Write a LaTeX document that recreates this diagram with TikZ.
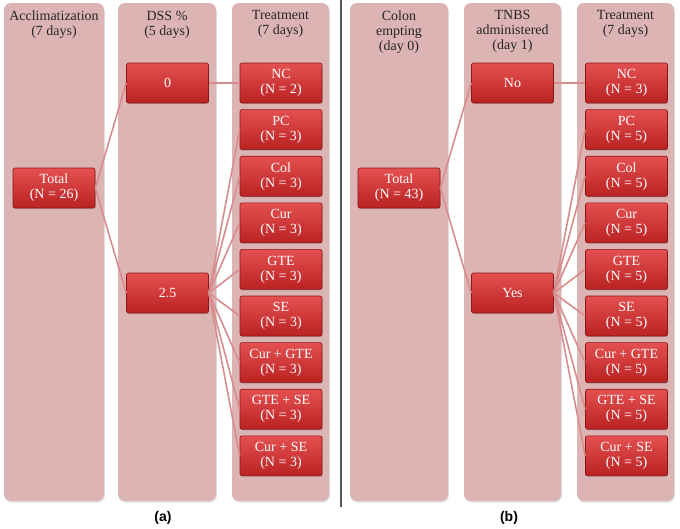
\documentclass[tikz,border=0pt]{standalone}
\usepackage{fontspec}
\setmainfont{Liberation Serif}
\newfontfamily\panelfont{Liberation Sans}
\usetikzlibrary{shadows}

\definecolor{colbg}{HTML}{DDB4B4}
\definecolor{boxtop}{HTML}{E45050}
\definecolor{boxbot}{HTML}{BA2222}
\definecolor{boxedge}{HTML}{8A1616}
\definecolor{linkcol}{HTML}{D88C8C}
\definecolor{hdrtext}{HTML}{262626}

\tikzset{
  column/.style={fill=colbg, rounded corners=7pt,
    drop shadow={shadow xshift=0.8pt, shadow yshift=-1.5pt, opacity=0.25}},
  hdr/.style={anchor=north, align=center, text=hdrtext, inner sep=0pt,
    font=\fontsize{14}{15}\selectfont},
  grp/.style={rectangle, rounded corners=2pt, draw=boxedge, line width=0.6pt,
    top color=boxtop, bottom color=boxbot, minimum width=82pt,
    minimum height=40pt, inner sep=0pt, align=center, text=white,
    font=\fontsize{14}{15}\selectfont,
    drop shadow={shadow xshift=0.6pt, shadow yshift=-1.2pt, opacity=0.35}},
  link/.style={draw=linkcol, line width=1.6pt},
  panel/.style={font=\panelfont\bfseries\fontsize{14}{15}\selectfont}
}

\begin{document}
\begin{tikzpicture}[x=1pt,y=-1pt]
\useasboundingbox (0,0) rectangle (680,528);

% Panel (a): columns
\path[column] (4,3) rectangle (104,501);
\path[column] (118,3) rectangle (216,501);
\path[column] (232,3) rectangle (329,501);
\node[hdr] (hdrAcc) at (54,10.5) {Acclimatization\\(7 days)};
\node[hdr] (hdrDss) at (167,10.5) {DSS \%\\(5 days)};
\node[hdr] (hdrTrtA) at (280.5,10.5) {Treatment\\(7 days)};

% Panel (a): groups
\node[grp] (totA) at (54,188) {Total\\(N = 26)};
\node[grp] (dssZero) at (167.5,83) {0};
\node[grp] (dssHigh) at (167.5,293) {2.5};
\node[grp] (ncA) at (281,83) {NC\\(N = 2)};
\node[grp] (pcA) at (281,129.6) {PC\\(N = 3)};
\node[grp] (colA) at (281,176.2) {Col\\(N = 3)};
\node[grp] (curA) at (281,222.8) {Cur\\(N = 3)};
\node[grp] (gteA) at (281,269.4) {GTE\\(N = 3)};
\node[grp] (seA) at (281,316) {SE\\(N = 3)};
\node[grp] (curgteA) at (281,362.6) {Cur + GTE\\(N = 3)};
\node[grp] (gteseA) at (281,409.2) {GTE + SE\\(N = 3)};
\node[grp] (curseA) at (281,455.8) {Cur + SE\\(N = 3)};

% Panel (a): links
\draw[link] (totA.east) -- (dssZero.west);
\draw[link] (totA.east) -- (dssHigh.west);
\draw[link] (dssZero.east) -- (ncA.west);
\draw[link] (dssHigh.east) -- (pcA.west);
\draw[link] (dssHigh.east) -- (colA.west);
\draw[link] (dssHigh.east) -- (curA.west);
\draw[link] (dssHigh.east) -- (gteA.west);
\draw[link] (dssHigh.east) -- (seA.west);
\draw[link] (dssHigh.east) -- (curgteA.west);
\draw[link] (dssHigh.east) -- (gteseA.west);
\draw[link] (dssHigh.east) -- (curseA.west);

% Divider
\coordinate (divTop) at (341,0);
\coordinate (divBot) at (341,507);
\draw[line width=1.3pt, black!65] (divTop) -- (divBot);

% Panel (b): columns
\path[column] (350,3) rectangle (448,501);
\path[column] (464,3) rectangle (561,501);
\path[column] (577,3) rectangle (674,501);
\node[hdr] (hdrCol) at (399,10.5) {Colon\\empting\\(day 0)};
\node[hdr] (hdrTnbs) at (512.5,10.5) {TNBS\\administered\\(day 1)};
\node[hdr] (hdrTrtB) at (625.5,10.5) {Treatment\\(7 days)};

% Panel (b): groups
\node[grp] (totB) at (399,188) {Total\\(N = 43)};
\node[grp] (tnbsNo) at (512.5,83) {No};
\node[grp] (tnbsYes) at (512.5,293) {Yes};
\node[grp] (ncB) at (626.5,83) {NC\\(N = 3)};
\node[grp] (pcB) at (626.5,129.6) {PC\\(N = 5)};
\node[grp] (colB) at (626.5,176.2) {Col\\(N = 5)};
\node[grp] (curB) at (626.5,222.8) {Cur\\(N = 5)};
\node[grp] (gteB) at (626.5,269.4) {GTE\\(N = 5)};
\node[grp] (seB) at (626.5,316) {SE\\(N = 5)};
\node[grp] (curgteB) at (626.5,362.6) {Cur + GTE\\(N = 5)};
\node[grp] (gteseB) at (626.5,409.2) {GTE + SE\\(N = 5)};
\node[grp] (curseB) at (626.5,455.8) {Cur + SE\\(N = 5)};

% Panel (b): links
\draw[link] (totB.east) -- (tnbsNo.west);
\draw[link] (totB.east) -- (tnbsYes.west);
\draw[link] (tnbsNo.east) -- (ncB.west);
\draw[link] (tnbsYes.east) -- (pcB.west);
\draw[link] (tnbsYes.east) -- (colB.west);
\draw[link] (tnbsYes.east) -- (curB.west);
\draw[link] (tnbsYes.east) -- (gteB.west);
\draw[link] (tnbsYes.east) -- (seB.west);
\draw[link] (tnbsYes.east) -- (curgteB.west);
\draw[link] (tnbsYes.east) -- (gteseB.west);
\draw[link] (tnbsYes.east) -- (curseB.west);

% Panel labels
\node[panel] (labA) at (163,518) {(a)};
\node[panel] (labB) at (509,518) {(b)};
\end{tikzpicture}
\end{document}
